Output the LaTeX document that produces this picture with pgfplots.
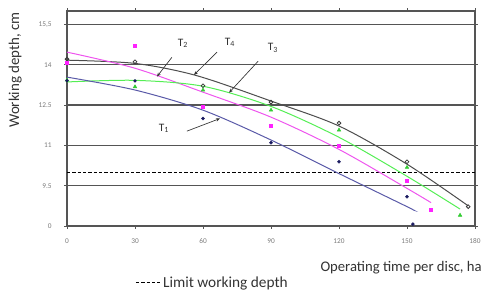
\documentclass[border=0pt]{standalone}
\usepackage{pgfplots}
\pgfplotsset{compat=1.18}
\usepackage{fontspec}
\setmainfont{Carlito}
\usetikzlibrary{arrows.meta}
\definecolor{gridc}{HTML}{555555}
\definecolor{tickc}{HTML}{7A7A7A}
\definecolor{tfour}{HTML}{4D4D4D}
\definecolor{tfourm}{HTML}{3A3A3A}
\definecolor{ttwo}{HTML}{EE55EE}
\definecolor{ttwom}{HTML}{FF22FF}
\definecolor{tthree}{HTML}{55EE55}
\definecolor{tthreem}{HTML}{33CC33}
\definecolor{tone}{HTML}{5A5AA8}
\definecolor{tonem}{HTML}{1A1A60}
\definecolor{txt}{HTML}{333333}
\begin{document}
\begin{tikzpicture}
\useasboundingbox (0,0) rectangle (363pt,219pt);
\begin{axis}[
  at={(50.25pt,49.5pt)}, anchor=south west,
  scale only axis, width=306pt, height=161.25pt,
  xmin=0, xmax=180, ymin=8, ymax=16,
  xtick={0,30,60,90,120,150,180},
  ytick={8,9.5,11,12.5,14,15.5},
  yticklabels={0,9.5,11,12.5,14,{15,5}},
  ymajorgrids,
  grid style={gridc, line width=0.85pt},
  axis line style={gridc, line width=0.85pt},
  tick style={gridc, line width=0.6pt},
  tick align=outside, major tick length=2pt,
  /pgf/number format/assume math mode=true,
  ticklabel style={font=\fontsize{5.5}{6}\selectfont, text=tickc},
  xticklabel style={yshift=-4pt},
  yticklabel style={xshift=-6pt},
  clip=false,
  legend style={at={(0.167,-0.265)}, anchor=west, draw=none, fill=none,
    inner sep=0pt, font=\fontsize{11.5}{13}\selectfont, text=txt},
  legend image code/.code={\draw[#1] (0pt,0pt) -- (18pt,0pt);},
]
% limit working depth
\addplot[black, line width=0.75pt, dash pattern=on 2.5pt off 1.5pt] coordinates {(0,10) (180,10)};
\addlegendentry{Limit working depth}
% T4 (black)
\addplot[tfour, line width=0.75pt, smooth, forget plot] coordinates {
 (0,14.17) (30,14.05) (57,13.6) (90,12.65) (120,11.72) (150,10.3) (177,8.75)};
\addplot[only marks, mark=o, mark size=1.4pt, tfourm, mark options={line width=0.6pt}, forget plot] coordinates {
 (0,14.21) (30,14.11) (60,13.22) (90,12.61) (120,11.83) (150,10.39) (177,8.72)};
% T2 (magenta)
\addplot[ttwo, line width=0.75pt, smooth, forget plot] coordinates {
 (0,14.47) (30,13.87) (60,12.98) (90,12.05) (120,10.85) (150,9.4) (160.6,8.87)};
\addplot[only marks, mark=square*, mark size=1.15pt, ttwom, forget plot] coordinates {
 (0,14.06) (30,14.7) (60,12.43) (90,11.72) (120,11.0) (150,9.68) (160.6,8.6)};
% T3 (green)
\addplot[tthree, line width=0.75pt, smooth, forget plot] coordinates {
 (0,13.36) (30,13.42) (60,13.2) (90,12.45) (120,11.3) (150,9.85) (173.4,8.63)};
\addplot[only marks, mark=triangle*, mark size=1.5pt, tthreem, forget plot] coordinates {
 (0,13.43) (30,13.18) (60,13.06) (90,12.31) (120,11.57) (150,10.18) (173.4,8.4)};
% T1 (blue)
\addplot[tone, line width=0.75pt, smooth, forget plot] coordinates {
 (0,13.54) (30,13.06) (60,12.31) (90,11.2) (120,9.95) (150,8.72) (152.6,8.6)};
\addplot[only marks, mark=*, mark size=1.1pt, tonem, forget plot] coordinates {
 (0,13.41) (30,13.4) (60,12.0) (90,11.1) (120,10.39) (150,9.09) (152.6,8.07)};
% labels and arrows
\node[font=\fontsize{8.5}{9}\selectfont, text=txt] at (axis cs:51.2,14.8) {T\textsubscript{2}};
\node[font=\fontsize{8.5}{9}\selectfont, text=txt] at (axis cs:71.9,14.84) {T\textsubscript{4}};
\node[font=\fontsize{8.5}{9}\selectfont, text=txt] at (axis cs:90.9,14.62) {T\textsubscript{3}};
\node[font=\fontsize{8.5}{9}\selectfont, text=txt] at (axis cs:42.8,11.64) {T\textsubscript{1}};
\draw[-{Stealth[length=3pt,width=2.5pt]}, txt, line width=0.5pt] (axis cs:46.3,14.28) -- (axis cs:39.7,13.56);
\draw[-{Stealth[length=3pt,width=2.5pt]}, txt, line width=0.5pt] (axis cs:66.2,14.47) -- (axis cs:56.0,13.62);
\draw[-{Stealth[length=3pt,width=2.5pt]}, txt, line width=0.5pt] (axis cs:84.3,14.13) -- (axis cs:71.5,12.96);
\draw[-{Stealth[length=3pt,width=2.5pt]}, txt, line width=0.5pt] (axis cs:52.9,11.53) -- (axis cs:67.5,12.0);
% axis titles
\node[rotate=90, anchor=center, font=\fontsize{11.2}{13}\selectfont, text=txt] at (rel axis cs:-0.127,0.726) {Working depth, cm};
\node[anchor=east, inner sep=0pt, font=\fontsize{11}{13}\selectfont, text=txt] at (rel axis cs:1.017,-0.195) {Operating time per disc, ha};
\end{axis}
\end{tikzpicture}
\end{document}
